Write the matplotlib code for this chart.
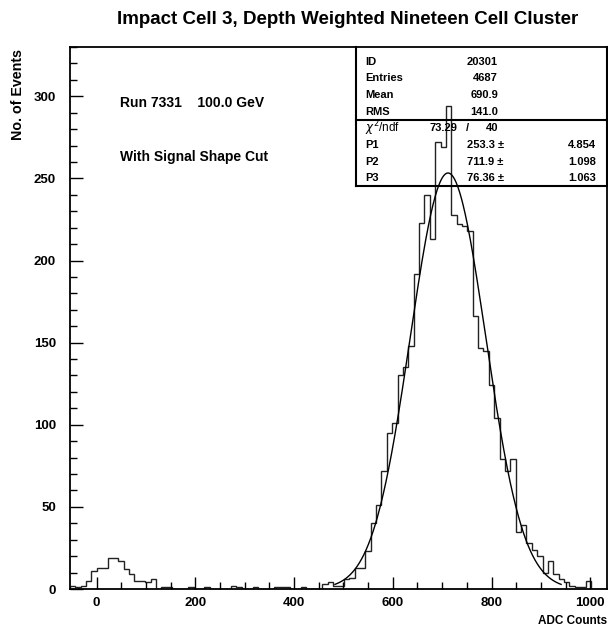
import numpy as np
import matplotlib
matplotlib.use("Agg")
import matplotlib.pyplot as plt
from matplotlib.lines import Line2D

plt.rcParams['font.family'] = ['Liberation Sans', 'DejaVu Sans']
plt.rcParams['mathtext.fontset'] = 'dejavusans'

# histogram 20301: 100 bins of ADC counts
x_low, x_high, n_bins = -54.0, 1034.0, 100
counts = [
    2, 1, 2, 5, 11, 13, 13, 19, 19, 17,
    12, 9, 5, 5, 4, 6, 0, 1, 1, 0,
    0, 0, 1, 0, 0, 1, 0, 0, 0, 0,
    2, 1, 0, 0, 1, 0, 0, 0, 1, 1,
    1, 0, 0, 1, 0, 0, 0, 3, 4, 2,
    2, 6, 7, 13, 13, 23, 40, 51, 72, 95,
    101, 130, 135, 148, 192, 223, 240, 213, 272, 269,
    294, 228, 222, 221, 218, 166, 147, 145, 124, 104,
    79, 72, 79, 35, 39, 28, 24, 20, 10, 17,
    9, 6, 4, 2, 1, 1, 5, 0, 0, 0,
]

# gaussian fit parameters
p1, p2, p3 = 253.3, 711.9, 76.36
p_err = [4.854, 1.098, 1.063]

stats_labels = ["ID", "Entries", "Mean", "RMS"]
stats_values = ["20301", "4687", "690.9", "141.0"]
chi2, ndf = "73.29", "40"

W, H = 608, 633
fig = plt.figure(figsize=(W / 100, H / 100), dpi=100)


def fpos(x, y):
    # pixel position -> figure fraction
    return x / W, 1 - y / H


ax = fig.add_axes([70 / W, 1 - 589 / H, (607 - 70) / W, (589 - 47) / H])

edges = np.linspace(x_low, x_high, n_bins + 1)
ax.stairs(counts, edges, color="#222222", lw=1.0)

xf = np.linspace(p2 - 3 * p3, p2 + 3 * p3, 400)
ax.plot(xf, p1 * np.exp(-0.5 * ((xf - p2) / p3) ** 2), color="black", lw=1.0)

ax.set_xlim(x_low, x_high)
ax.set_ylim(0, 330)
ax.set_xticks(np.arange(0, 1001, 200))
ax.set_xticks(np.arange(0, 1001, 50), minor=True)
ax.set_yticks(np.arange(0, 301, 50))
ax.set_yticks(np.arange(0, 331, 10), minor=True)
ax.tick_params(which="both", direction="in", top=False, right=False, width=1)
ax.tick_params(which="major", length=9)
ax.tick_params(which="minor", length=5)
ax.tick_params(axis="x", pad=6, labelsize=9.5)
ax.tick_params(axis="y", pad=10, labelsize=9.5)
for lab in ax.get_xticklabels() + ax.get_yticklabels():
    lab.set_fontweight("bold")
for s in ax.spines.values():
    s.set_linewidth(1.3)

ax.text(47, 296, "Run 7331    100.0 GeV", fontsize=10, fontweight="bold", va="center")
ax.text(47, 263, "With Signal Shape Cut", fontsize=10, fontweight="bold", va="center")

fig.text(*fpos(348, 19), "Impact Cell 3, Depth Weighted Nineteen Cell Cluster",
         fontsize=13.5, fontweight="bold", ha="center", va="center")
fig.text(*fpos(18, 95), "No. of Events", fontsize=10.3, fontweight="bold",
         rotation=90, ha="center", va="center")
fig.text(*fpos(607, 621), "ADC Counts", fontsize=8.5, fontweight="bold",
         ha="right", va="center")

# statistics box
box_l, box_r, box_t, box_m, box_b = 356, 607, 47, 120, 186
for xs, ys in [((box_l, box_l), (box_t, box_b)), ((box_l, box_r), (box_b, box_b)),
               ((box_l, box_r), (box_m, box_m)), ((box_r, box_r), (box_t, box_b))]:
    fig.add_artist(Line2D([x / W for x in xs], [1 - y / H for y in ys],
                          color="black", lw=1.5))

rows = [61.7, 78.3, 95, 111.7, 128.3, 145, 161.7, 178.3]
fs = 8
for i, (lab, val) in enumerate(zip(stats_labels, stats_values)):
    fig.text(*fpos(365, rows[i]), lab, fontsize=fs, fontweight="bold", va="center")
    fig.text(*fpos(498, rows[i]), val, fontsize=fs, fontweight="bold",
             va="center", ha="right")

fig.text(*fpos(365, rows[4]), r"$\chi^2$/ndf", fontsize=fs + 0.5, va="center")
fig.text(*fpos(457, rows[4]), chi2, fontsize=fs, fontweight="bold", va="center", ha="right")
fig.text(*fpos(466, rows[4]), "/", fontsize=fs, fontweight="bold", va="center")
fig.text(*fpos(498, rows[4]), ndf, fontsize=fs, fontweight="bold", va="center", ha="right")

for j, (val, err) in enumerate(zip([p1, p2, p3], p_err)):
    y = rows[5 + j]
    fig.text(*fpos(365, y), "P%d" % (j + 1), fontsize=fs, fontweight="bold", va="center")
    fig.text(*fpos(467, y), "%.4g \u00b1" % val, fontsize=fs, fontweight="bold", va="center")
    fig.text(*fpos(596, y), "%.4g" % err, fontsize=fs, fontweight="bold",
             va="center", ha="right")

fig.savefig("out.png", dpi=100)
